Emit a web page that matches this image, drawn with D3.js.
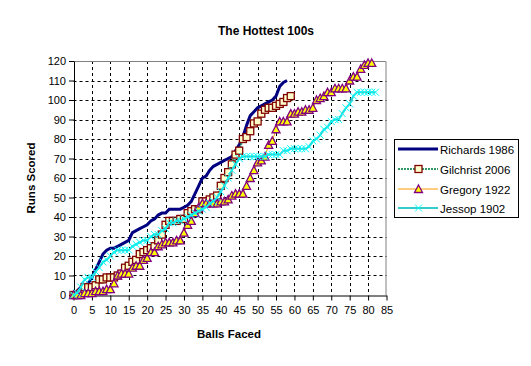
<!DOCTYPE html>
<html><head><meta charset="utf-8">
<script src="https://cdn.jsdelivr.net/npm/d3@7"></script>
<style>body{margin:0;background:#fff}svg{display:block}text{font-family:Arial,"Liberation Sans",sans-serif}</style>
</head><body><svg id="c" width="531" height="366"></svg>
<script>
const title = "The Hottest 100s";
const xLabel = "Balls Faced";
const yLabel = "Runs Scored";
const xTicks = d3.range(0, 86, 5);
const yTicks = d3.range(0, 121, 10);
const seriesNames = ["Richards 1986", "Gilchrist 2006", "Gregory 1922", "Jessop 1902"];
// cumulative runs after each ball (index = balls faced)
const richards = [0,2,4,5,6,9,13,17,21,23,24,24,25,26,27,28,32,33,34,35,36,38,39,41,42,42,44,44,44,44,45,46,48,52,56,60,61,64,66,67,68,69,70,71,74,77,81,87,92,94,96,97,98,99,100,102,107,109,110];
const gilchrist = [0,0,1,4,4,4,5,8,8,9,9,9,10,11,14,15,17,18,21,22,23,24,25,28,31,36,38,38,38,39,39,42,43,44,44,48,48,49,50,51,56,60,63,67,72,74,80,81,84,88,89,93,95,96,96,97,98,99,101,102];
const gregory = [0,0,0,1,1,1,2,2,2,3,3,6,10,11,11,11,14,15,15,18,19,22,22,25,26,27,27,27,28,28,32,36,38,42,45,47,47,47,47,47,48,48,49,51,52,52,52,56,60,64,68,69,71,77,79,85,89,89,89,93,93,94,94,95,95,96,100,101,102,104,104,106,106,106,106,110,112,112,116,118,119,119];
const jessop = [0,1,4,8,9,9,12,14,17,18,20,22,23,23,23,23,25,26,27,28,28,30,31,31,33,34,37,37,38,38,39,40,41,42,43,44,45,47,48,50,53,56,60,64,67,70,71,71,71,71,71,71,71,72,72,72,72,74,74,75,75,75,75,75,76,79,80,82,85,86,89,90,90,93,96,98,102,104,104,104,104,104,104];

const svg = d3.select("#c");
const x = d3.scaleLinear().domain([0, 85]).range([73.5, 386.5]);
const y = d3.scaleLinear().domain([0, 120]).range([295, 61]);

// gridlines
const g = svg.append("g");
g.selectAll("line.v").data(xTicks.filter(t => t > 0 && t < 85)).join("line")
  .attr("x1", d => Math.round(x(d)) + 0.5).attr("x2", d => Math.round(x(d)) + 0.5)
  .attr("y1", y(120)).attr("y2", y(0))
  .attr("stroke", "#000").attr("stroke-dasharray", "3,3");
g.selectAll("line.h").data(yTicks.filter(t => t > 0 && t < 120)).join("line")
  .attr("y1", d => Math.round(y(d)) + 0.5).attr("y2", d => Math.round(y(d)) + 0.5)
  .attr("x1", x(0)).attr("x2", x(85))
  .attr("stroke", "#000").attr("stroke-dasharray", "3,3");
// plot border top/right
svg.append("path").attr("d", `M${x(0)},${y(120)+0.5}H${x(85)-0.5}V${y(0)}`)
  .attr("fill", "none").attr("stroke", "#808080");

// axes
const ax = svg.append("g").attr("transform", `translate(0,${y(0)+0.5})`)
  .call(d3.axisBottom(x).tickValues(xTicks).tickSize(5).tickSizeOuter(0));
const ay = svg.append("g").attr("transform", `translate(${x(0)+0.5},0)`)
  .call(d3.axisLeft(y).tickValues(yTicks).tickSize(5).tickSizeOuter(0));
[ax, ay].forEach(a => {
  a.select(".domain").attr("stroke", "#000");
  a.selectAll(".tick line").attr("stroke", "#000");
  a.selectAll(".tick text").attr("font-size", 11).attr("fill", "#000")
    .attr("font-family", "Arial, 'Liberation Sans', sans-serif");
});
ax.selectAll(".tick text").attr("dy", "1.0em").attr("y", 7);
ay.selectAll(".tick text").attr("x", -8);

// series
const line = d3.line().x((d, i) => x(i)).y(d => y(d));
svg.append("path").datum(richards).attr("d", line)
  .attr("fill", "none").attr("stroke", "#000080").attr("stroke-width", 3);

svg.append("path").datum(gilchrist).attr("d", line)
  .attr("fill", "none").attr("stroke", "#339966").attr("stroke-width", 2).attr("stroke-dasharray", "2,1");
svg.append("g").selectAll("rect").data(gilchrist).join("rect")
  .attr("x", (d, i) => x(i) - 3.5).attr("y", d => y(d) - 3.5).attr("width", 7).attr("height", 7)
  .attr("fill", "#FFFFCC").attr("stroke", "#800000").attr("stroke-width", 1.3);

svg.append("path").datum(gregory).attr("d", line)
  .attr("fill", "none").attr("stroke", "#FF9900").attr("stroke-width", 1);
const tri = (cx, cy) => `M${cx},${cy-4}L${cx+4},${cy+3.5}L${cx-4},${cy+3.5}Z`;
svg.append("g").selectAll("path").data(gregory).join("path")
  .attr("d", (d, i) => tri(x(i), y(d)))
  .attr("fill", "#FFFF00").attr("stroke", "#800080").attr("stroke-width", 1.3);

svg.append("path").datum(jessop).attr("d", line)
  .attr("fill", "none").attr("stroke", "#33CCCC").attr("stroke-width", 2);
const cross = (cx, cy) => `M${cx-3.5},${cy-3.5}L${cx+3.5},${cy+3.5}M${cx+3.5},${cy-3.5}L${cx-3.5},${cy+3.5}`;
svg.append("g").selectAll("path").data(jessop).join("path")
  .attr("d", (d, i) => cross(x(i), y(d)))
  .attr("fill", "none").attr("stroke", "#00FFFF").attr("stroke-width", 1);

// titles
svg.append("text").attr("x", 266).attr("y", 35).attr("text-anchor", "middle")
  .attr("font-size", 12).attr("font-weight", "bold").text(title);
svg.append("text").attr("x", 229).attr("y", 338).attr("text-anchor", "middle")
  .attr("font-size", 11.5).attr("font-weight", "bold").text(xLabel);
svg.append("text").attr("transform", "translate(35,178) rotate(-90)").attr("text-anchor", "middle")
  .attr("font-size", 11.5).attr("font-weight", "bold").text(yLabel);

// legend
const lg = svg.append("g");
lg.append("rect").attr("x", 394.5).attr("y", 139.5).attr("width", 124).attr("height", 78)
  .attr("fill", "#fff").attr("stroke", "#000");
const rowY = [149, 169, 189, 208];
const lx1 = 398, lx2 = 438, lmx = 418.5;
lg.append("line").attr("x1", lx1).attr("x2", lx2).attr("y1", rowY[0]).attr("y2", rowY[0])
  .attr("stroke", "#000080").attr("stroke-width", 3);
lg.append("line").attr("x1", lx1).attr("x2", lx2).attr("y1", rowY[1]).attr("y2", rowY[1])
  .attr("stroke", "#339966").attr("stroke-width", 2).attr("stroke-dasharray", "2,1");
lg.append("rect").attr("x", lmx - 3.5).attr("y", rowY[1] - 3.5).attr("width", 7).attr("height", 7)
  .attr("fill", "#FFFFCC").attr("stroke", "#800000").attr("stroke-width", 1.3);
lg.append("line").attr("x1", lx1).attr("x2", lx2).attr("y1", rowY[2]).attr("y2", rowY[2])
  .attr("stroke", "#FF9900").attr("stroke-width", 1);
lg.append("path").attr("d", tri(lmx, rowY[2])).attr("fill", "#FFFF00").attr("stroke", "#800080").attr("stroke-width", 1.3);
lg.append("line").attr("x1", lx1).attr("x2", lx2).attr("y1", rowY[3]).attr("y2", rowY[3])
  .attr("stroke", "#33CCCC").attr("stroke-width", 2);
lg.append("path").attr("d", cross(lmx, rowY[3])).attr("fill", "none").attr("stroke", "#00FFFF");
lg.selectAll("text").data(seriesNames).join("text")
  .attr("x", 440).attr("y", (d, i) => rowY[i] + 4.5).attr("font-size", 11.5).text(d => d);
</script></body></html>
